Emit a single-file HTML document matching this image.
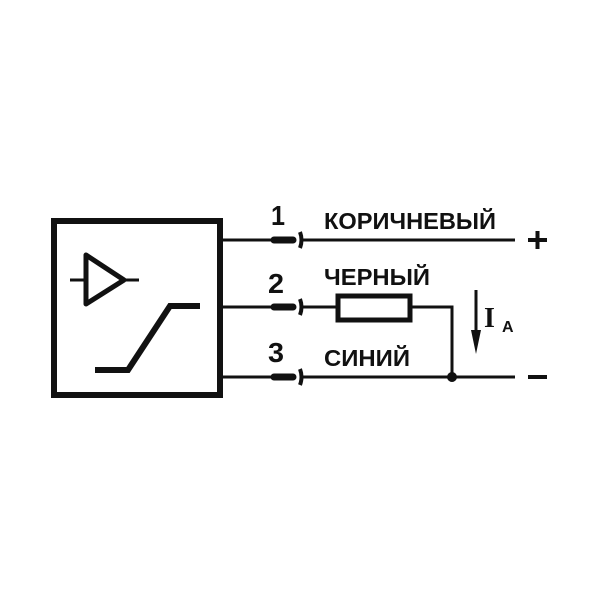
<!DOCTYPE html><html><head><style>body{margin:0;background:#fff}svg{display:block}text{font-family:"Liberation Sans",sans-serif;font-weight:bold;fill:#111}</style></head><body>
<svg width="600" height="600" viewBox="0 0 600 600">
<g stroke="#111" fill="none">
<rect x="54" y="221" width="166" height="174" stroke-width="6"/>
<polygon points="86,255 86,304 124,280" stroke-width="5" stroke-linejoin="round"/>
<line x1="70" y1="280" x2="86" y2="280" stroke-width="3"/>
<line x1="124" y1="280" x2="139" y2="280" stroke-width="3"/>
<polyline points="95,370 128,370 170,306 200,306" stroke-width="6"/>
<g stroke-width="3">
<line x1="220" y1="240" x2="272" y2="240"/><line x1="220" y1="307" x2="272" y2="307"/><line x1="220" y1="377" x2="272" y2="377"/>
<line x1="302" y1="240" x2="515" y2="240"/><line x1="302" y1="307" x2="336" y2="307"/><polyline points="411,307 452,307 452,377"/>
<line x1="302" y1="377" x2="515" y2="377"/>
<line x1="476" y1="290" x2="476" y2="335"/>
</g>
<g stroke-width="4"><line x1="528" y1="240" x2="547" y2="240"/><line x1="537.5" y1="231" x2="537.5" y2="249"/>
<line x1="528" y1="377" x2="547" y2="377"/></g>
<g stroke-width="7" stroke-linecap="round"><line x1="274" y1="240" x2="293" y2="240"/><line x1="274" y1="307" x2="293" y2="307"/><line x1="274" y1="377" x2="293" y2="377"/></g>
<g stroke-width="4"><path d="M300,232 q3,8 0,16"/><path d="M300,299 q3,8 0,16"/><path d="M300,369 q3,8 0,16"/></g>
<rect x="338" y="296" width="72" height="24" stroke-width="5"/>
</g>
<circle cx="452" cy="377" r="5" fill="#111"/>
<polygon points="471,330 481,330 476,354" fill="#111"/>
<text x="271" y="225" font-size="28" textLength="14" lengthAdjust="spacingAndGlyphs">1</text>
<text x="268" y="293" font-size="28" textLength="16" lengthAdjust="spacingAndGlyphs">2</text>
<text x="268" y="362" font-size="28" textLength="16" lengthAdjust="spacingAndGlyphs">3</text>
<text x="324" y="229" font-size="23" textLength="172" lengthAdjust="spacingAndGlyphs">КОРИЧНЕВЫЙ</text>
<text x="324" y="285" font-size="23" textLength="106" lengthAdjust="spacingAndGlyphs">ЧЕРНЫЙ</text>
<text x="324" y="366" font-size="23" textLength="86" lengthAdjust="spacingAndGlyphs">СИНИЙ</text>
<text x="484" y="327" font-size="28" font-weight="normal" style="font-family:'Liberation Serif',serif">I</text>
<text x="502" y="332" font-size="16">A</text>
</svg></body></html>
